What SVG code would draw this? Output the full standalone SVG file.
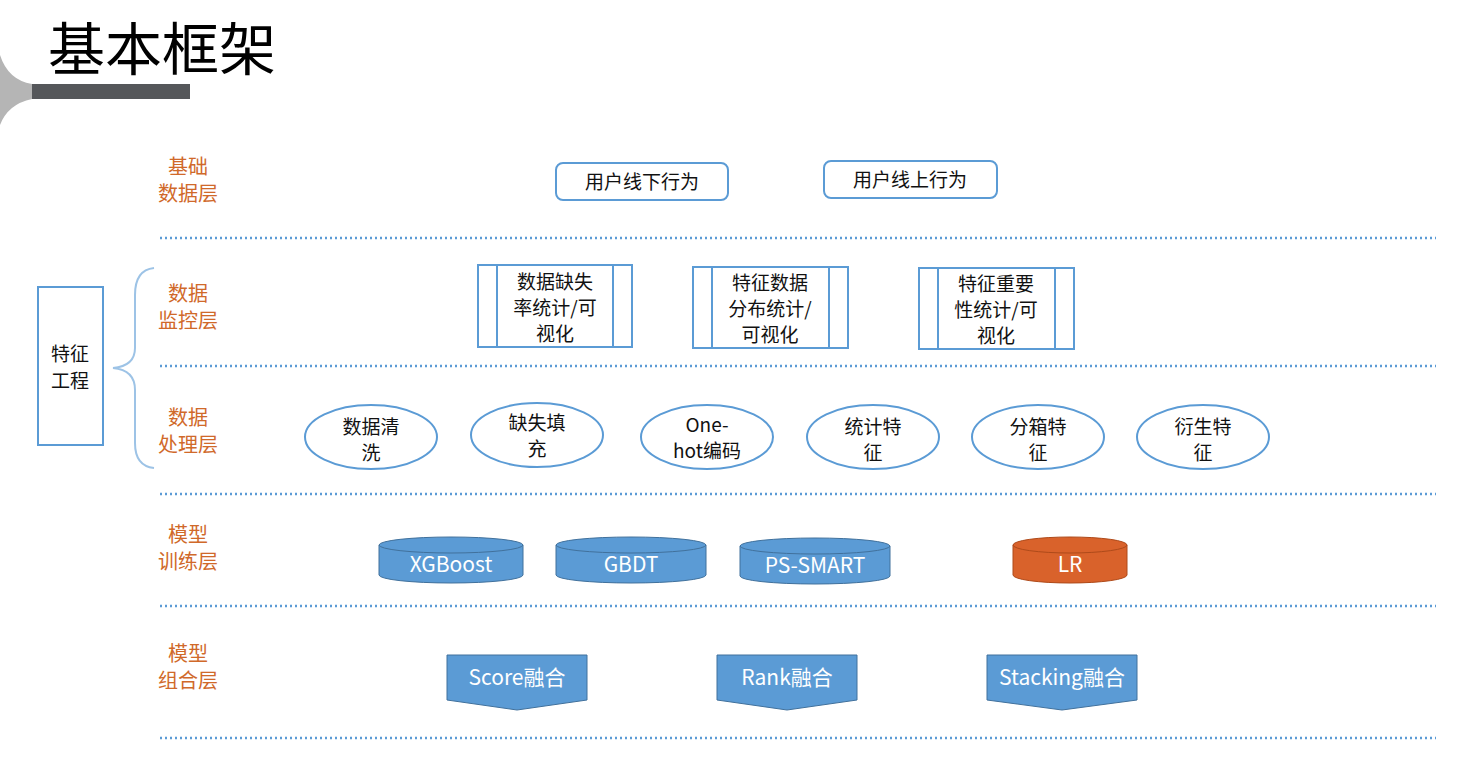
<svg xmlns="http://www.w3.org/2000/svg" width="1471" height="760" viewBox="0 0 1471 760">
<style>
text{font-family:"Noto Sans CJK SC","Liberation Sans",sans-serif}
.lab{fill:#D0692A;font-size:20px;text-anchor:middle}
.dot{stroke:#5B9BD5;stroke-width:2.5;stroke-dasharray:2 3}
.ol{fill:#fff;stroke:#5B9BD5;stroke-width:2}
.t{font-size:19px;fill:#111;text-anchor:middle}
.w{font-size:21px;fill:#fff;text-anchor:middle}
.blue{fill:#5B9BD5;stroke:#41719C;stroke-width:1}
.org{fill:#D9622B;stroke:#AE4A1A;stroke-width:1}
</style>
<rect width="1471" height="760" fill="#fff"/>
<g id="header">
<path d="M0 55 Q8 80 32 84 L32 99 Q8 104 0 125 Z" fill="#B5B5B5"/>
<rect x="32" y="84" width="158" height="15" fill="#55575A"/>
<text x="48" y="70" font-size="57" fill="#000">基本框架</text>
</g>
<g id="layer-labels">
<text class="lab" x="188" y="174">基础</text><text class="lab" x="188" y="201">数据层</text>
<text class="lab" x="188" y="301">数据</text><text class="lab" x="188" y="328">监控层</text>
<text class="lab" x="188" y="425">数据</text><text class="lab" x="188" y="452">处理层</text>
<text class="lab" x="188" y="542">模型</text><text class="lab" x="188" y="569">训练层</text>
<text class="lab" x="188" y="661">模型</text><text class="lab" x="188" y="688">组合层</text>
</g>
<g id="separators">
<line class="dot" x1="160" y1="238" x2="1436" y2="238"/>
<line class="dot" x1="160" y1="366" x2="1436" y2="366"/>
<line class="dot" x1="160" y1="494" x2="1436" y2="494"/>
<line class="dot" x1="160" y1="606" x2="1436" y2="606"/>
<line class="dot" x1="160" y1="738" x2="1436" y2="738"/>
</g>
<g id="feature-eng">
<rect class="ol" x="38" y="287" width="65" height="158"/>
<text class="t" x="70" y="361">特征</text><text class="t" x="70" y="388">工程</text>
<path d="M154 268 Q135 270 135 295 L135 348 Q135 366 113 368 Q135 370 135 390 L135 443 Q135 466 154 468" fill="none" stroke="#9DC3E6" stroke-width="2"/>
</g>
<g id="base-data">
<rect class="ol" x="556" y="163" width="172" height="37" rx="7"/><text class="t" x="642" y="189">用户线下行为</text>
<rect class="ol" x="824" y="161" width="173" height="37" rx="7"/><text class="t" x="910" y="187">用户线上行为</text>
</g>
<g id="monitor">
<rect class="ol" x="478" y="265" width="154" height="82"/><line class="ol" x1="497" y1="265" x2="497" y2="347"/><line class="ol" x1="613" y1="265" x2="613" y2="347"/>
<text class="t" x="555" y="289">数据缺失</text><text class="t" x="555" y="315">率统计/可</text><text class="t" x="555" y="341">视化</text>
<rect class="ol" x="693" y="267" width="155" height="81"/><line class="ol" x1="712" y1="267" x2="712" y2="348"/><line class="ol" x1="829" y1="267" x2="829" y2="348"/>
<text class="t" x="770" y="290">特征数据</text><text class="t" x="770" y="316">分布统计/</text><text class="t" x="770" y="342">可视化</text>
<rect class="ol" x="919" y="268" width="155" height="81"/><line class="ol" x1="938" y1="268" x2="938" y2="349"/><line class="ol" x1="1055" y1="268" x2="1055" y2="349"/>
<text class="t" x="996" y="291">特征重要</text><text class="t" x="996" y="317">性统计/可</text><text class="t" x="996" y="343">视化</text>
</g>
<g id="process">
<ellipse class="ol" cx="371" cy="437" rx="66" ry="32"/><text class="t" x="371" y="434">数据清</text><text class="t" x="371" y="460">洗</text>
<ellipse class="ol" cx="537" cy="435" rx="66" ry="32"/><text class="t" x="537" y="430">缺失填</text><text class="t" x="537" y="456">充</text>
<ellipse class="ol" cx="707" cy="437" rx="66" ry="32"/><text class="t" x="707" y="432">One-</text><text class="t" x="707" y="458">hot编码</text>
<ellipse class="ol" cx="873" cy="437" rx="66" ry="32"/><text class="t" x="873" y="434">统计特</text><text class="t" x="873" y="460">征</text>
<ellipse class="ol" cx="1038" cy="437" rx="66" ry="32"/><text class="t" x="1038" y="434">分箱特</text><text class="t" x="1038" y="460">征</text>
<ellipse class="ol" cx="1203" cy="437" rx="66" ry="32"/><text class="t" x="1203" y="434">衍生特</text><text class="t" x="1203" y="460">征</text>
</g>
<g id="models">
<path class="blue" d="M379 545 A72 8 0 0 1 523 545 L523 575 A72 8 0 0 1 379 575 Z"/><path d="M379 545 A72 8 0 0 0 523 545" fill="none" stroke="#41719C"/><text class="w" x="451" y="572">XGBoost</text>
<path class="blue" d="M556 545 A75 8 0 0 1 706 545 L706 575 A75 8 0 0 1 556 575 Z"/><path d="M556 545 A75 8 0 0 0 706 545" fill="none" stroke="#41719C"/><text class="w" x="631" y="572">GBDT</text>
<path class="blue" d="M740 546 A75 8 0 0 1 890 546 L890 576 A75 8 0 0 1 740 576 Z"/><path d="M740 546 A75 8 0 0 0 890 546" fill="none" stroke="#41719C"/><text class="w" x="815" y="573">PS-SMART</text>
<path class="org" d="M1013 545 A57 8 0 0 1 1127 545 L1127 575 A57 8 0 0 1 1013 575 Z"/><path d="M1013 545 A57 8 0 0 0 1127 545" fill="none" stroke="#AE4A1A"/><text class="w" x="1070" y="572">LR</text>
</g>
<g id="ensemble">
<path class="blue" d="M447 655 H587 V700 L517 710 L447 700 Z"/><text class="w" x="517" y="685">Score融合</text>
<path class="blue" d="M717 655 H857 V700 L787 710 L717 700 Z"/><text class="w" x="787" y="685">Rank融合</text>
<path class="blue" d="M987 655 H1137 V700 L1062 710 L987 700 Z"/><text class="w" x="1062" y="685">Stacking融合</text>
</g>
</svg>
